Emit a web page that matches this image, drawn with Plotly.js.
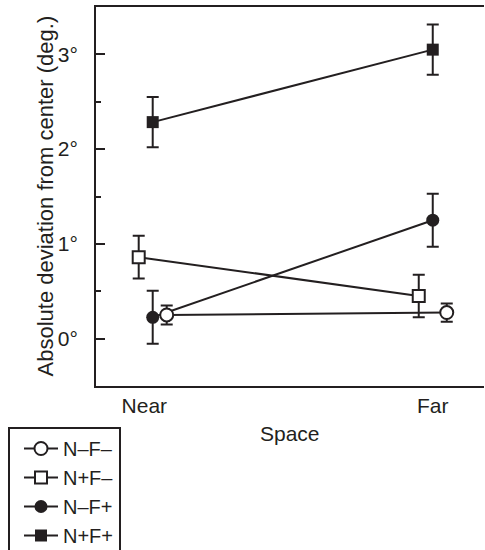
<!DOCTYPE html>
<html>
<head>
<meta charset="utf-8">
<script src="https://cdn.plot.ly/plotly-3.0.1.min.js"></script>
<style>html,body{margin:0;padding:0;background:#fff;}#chart{width:485px;height:550px;}</style>
</head>
<body>
<div id="chart"></div>
<script>
// Categories on the x axis
const categories = ['Near', 'Far'];
const categoryPos = [0, 1];

// Series names (legend order)
const seriesNames = ['N\u2013F\u2013', 'N+F\u2013', 'N\u2013F+', 'N+F+'];

// Mean absolute deviation (deg.) for Near, Far
const valsNFminusMinus = [0.25, 0.275];
const valsNplusFminus  = [0.86, 0.45];
const valsNminusFplus  = [0.225, 1.25];
const valsNplusFplus   = [2.285, 3.05];

// Error (±) for Near, Far
const errNFminusMinus = [0.10, 0.097];
const errNplusFminus  = [0.225, 0.225];
const errNminusFplus  = [0.28, 0.28];
const errNplusFplus   = [0.265, 0.265];

// Horizontal dodge of each series around the category position
const dodge = [0.05, -0.05, 0, 0];

const yTickVals = [0, 1, 2, 3];
const yTickText = ['0\u00b0', '1\u00b0', '2\u00b0', '3\u00b0'];

const font = 'Liberation Sans, Arial, Helvetica, sans-serif';
const ink = '#231f20';

function mk(i, vals, errs, symbol, filled, rank) {
  return {
    type: 'scatter',
    mode: 'lines+markers',
    name: seriesNames[i],
    x: categoryPos.map(p => p + dodge[i]),
    y: vals,
    error_y: {type: 'data', array: errs, visible: true, color: ink, thickness: 2, width: 6},
    line: {color: ink, width: 2},
    marker: {symbol: symbol, size: symbol === 'circle' ? 13 : 12,
             color: filled ? ink : '#ffffff',
             line: {color: ink, width: filled ? 0 : 2}},
    legendrank: rank,
    cliponaxis: false
  };
}

const data = [
  mk(3, valsNplusFplus, errNplusFplus, 'square', true, 4),
  mk(2, valsNminusFplus, errNminusFplus, 'circle', true, 3),
  mk(1, valsNplusFminus, errNplusFminus, 'square', false, 2),
  mk(0, valsNFminusMinus, errNFminusMinus, 'circle', false, 1)
];

const layout = {
  width: 485, height: 550,
  margin: {l: 96, r: 1, t: 7, b: 164, autoexpand: false},
  paper_bgcolor: '#fff', plot_bgcolor: '#fff',
  font: {family: font, color: ink, size: 21},
  showlegend: true,
  legend: {
    xref: 'container', yref: 'container',
    x: 8 / 485, y: 1 - 427 / 550, xanchor: 'left', yanchor: 'top',
    bordercolor: ink, borderwidth: 2, bgcolor: '#fff',
    font: {family: font, size: 20, color: ink},
    tracegroupgap: 0, itemwidth: 34, indentation: 9
  },
  xaxis: {
    range: [-0.2025, 1.183],
    tickvals: [categoryPos[0] - 0.03, categoryPos[1]], ticktext: categories,
    ticks: '', showgrid: false, zeroline: false, automargin: false,
    showline: true, linecolor: ink, linewidth: 2, mirror: true,
    tickfont: {size: 21}
  },
  yaxis: {
    range: [-0.5, 3.5],
    tickvals: yTickVals, ticktext: yTickText,
    ticks: 'inside', ticklen: 9, tickwidth: 2, tickcolor: ink,
    ticklabelstandoff: 12,
    minor: {dtick: 0.5, tick0: 0, ticks: 'inside', ticklen: 5, tickwidth: 2, tickcolor: ink, showgrid: false},
    showgrid: false, zeroline: false, automargin: false,
    showline: true, linecolor: ink, linewidth: 2, mirror: false,
    tickfont: {size: 21}
  },
  annotations: [
    {text: 'Absolute deviation from center (deg.)', xref: 'paper', yref: 'paper',
     x: (45 - 96) / 388, y: 0.5, textangle: -90, showarrow: false,
     xanchor: 'center', yanchor: 'middle', font: {size: 22, family: font, color: ink}},
    {text: 'Space', xref: 'paper', yref: 'paper',
     x: (290 - 96) / 388, y: -(433 - 386) / 379, showarrow: false,
     xanchor: 'center', yanchor: 'middle', font: {size: 21, family: font, color: ink}}
  ]
};

Plotly.newPlot('chart', data, layout, {displayModeBar: false, staticPlot: true});
</script>
</body>
</html>
